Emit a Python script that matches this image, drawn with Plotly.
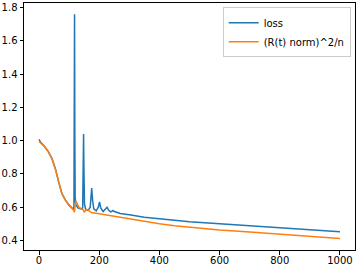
import plotly.graph_objects as go

# Orange series: (R(t) norm)^2/n
r_x = [0, 15, 30, 43, 55, 65, 76, 88, 99, 108, 113, 116, 118, 120, 122, 126, 132, 140, 146,
       150, 153, 158, 163, 170, 175, 180, 190, 213, 240, 270, 300, 350, 400, 450, 500, 600, 700,
       800, 900, 1000]
r_y = [0.995, 0.97, 0.935, 0.89, 0.825, 0.75, 0.68, 0.64, 0.612, 0.595, 0.586, 0.578, 0.57, 0.61,
       0.637, 0.625, 0.60, 0.59, 0.585, 0.571, 0.578, 0.586, 0.582, 0.572, 0.566, 0.567, 0.564,
       0.556, 0.545, 0.537, 0.527, 0.513, 0.50, 0.489, 0.48, 0.463, 0.45, 0.438, 0.425, 0.412]

# Blue series: loss
loss_x = [0, 5, 15, 30, 43, 55, 65, 76, 88, 99, 110, 114, 116, 117, 118, 119, 120, 122, 130, 140,
          145, 147, 148, 149, 151, 155, 163, 170, 172, 175, 178, 182, 190, 197, 201, 205, 213, 220,
          226, 231, 238, 243, 246, 250, 260, 270, 300, 350, 400, 450, 500, 600, 700, 800, 900, 1000]
loss_y = [1.007, 0.99, 0.972, 0.937, 0.892, 0.827, 0.752, 0.682, 0.642, 0.612, 0.594, 0.59, 0.60,
          1.2, 1.76, 1.0, 0.66, 0.615, 0.595, 0.59, 0.595, 0.8, 1.04, 0.85, 0.62, 0.585, 0.581, 0.60,
          0.64, 0.715, 0.64, 0.59, 0.578, 0.60, 0.631, 0.595, 0.574, 0.585, 0.60, 0.583, 0.572,
          0.575, 0.58, 0.574, 0.567, 0.562, 0.555, 0.54, 0.53, 0.52, 0.512, 0.50, 0.487, 0.475,
          0.463, 0.452]

x_ticks = [0, 200, 400, 600, 800, 1000]
y_ticks = [0.4, 0.6, 0.8, 1.0, 1.2, 1.4, 1.6, 1.8]

fig = go.Figure()
fig.add_trace(go.Scatter(x=loss_x, y=loss_y, mode="lines", name="loss",
                         line=dict(color="#1f77b4", width=1.5)))
fig.add_trace(go.Scatter(x=r_x, y=r_y, mode="lines", name="(R(t) norm)^2/n",
                         line=dict(color="#ff7f0e", width=1.5)))

axis_common = dict(showline=True, linecolor="black", linewidth=1, mirror=True,
                   ticks="outside", ticklen=3.5, tickwidth=1, tickcolor="black",
                   showgrid=False, zeroline=False, automargin=False,
                   tickfont=dict(family="DejaVu Sans", size=10, color="black"))

fig.update_layout(
    width=357, height=266,
    margin=dict(l=24, r=2.3, t=3, b=16.3, autoexpand=False),
    paper_bgcolor="white", plot_bgcolor="white",
    font=dict(family="DejaVu Sans", size=10, color="black"),
    showlegend=True,
    legend=dict(x=0.987, y=0.983, xanchor="right", yanchor="top",
                bgcolor="rgba(255,255,255,0.8)", bordercolor="#cccccc", borderwidth=1,
                font=dict(size=10), tracegroupgap=0, itemwidth=30),
    xaxis=dict(range=[-50, 1050], tickvals=x_ticks, ticklabelstandoff=-3, **axis_common),
    yaxis=dict(range=[0.3425, 1.8275], tickvals=y_ticks,
               ticktext=[f"{v:.1f}" for v in y_ticks], **axis_common),
)

fig.write_html("out.html", config={"displayModeBar": False},
               post_script="document.body.style.margin='0';document.body.style.padding='0';")
